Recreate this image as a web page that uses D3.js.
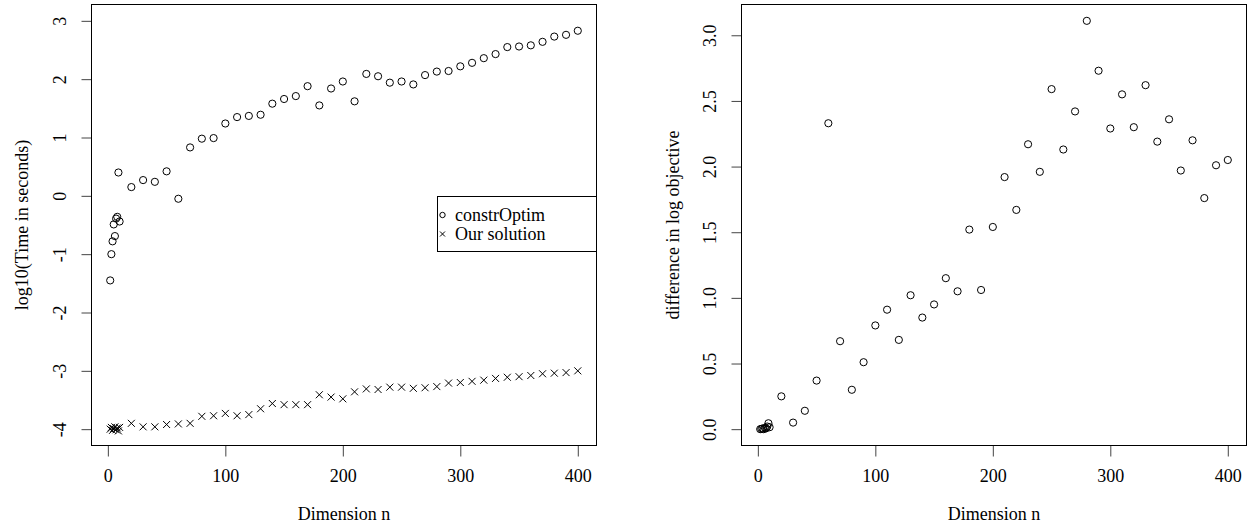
<!DOCTYPE html>
<html>
<head>
<meta charset="utf-8">
<script src="https://cdn.jsdelivr.net/npm/d3@7"></script>
<style>
    body { margin: 0; background: #fff; }
    svg text { font-family: "Liberation Serif", "Times New Roman", serif; fill: #000; }
</style>
</head>
<body>
<svg id="chart" width="1253" height="532"></svg>
<script>

// dimension n of each run
var dims = [2, 3, 4, 5, 6, 7, 8, 9, 10,
    20, 30, 40, 50, 60, 70, 80, 90, 100,
    110, 120, 130, 140, 150, 160, 170, 180, 190, 200,
    210, 220, 230, 240, 250, 260, 270, 280, 290, 300,
    310, 320, 330, 340, 350, 360, 370, 380, 390, 400];

// log10 of time in seconds
var constrOptimTime = [-1.45, -1.00, -0.78, -0.49, -0.69, -0.39, -0.36, 0.40, -0.44,
    0.15, 0.27, 0.24, 0.42, -0.05, 0.83, 0.98, 0.99, 1.24,
    1.35, 1.37, 1.39, 1.58, 1.66, 1.71, 1.88, 1.55, 1.84, 1.96,
    1.62, 2.09, 2.05, 1.94, 1.96, 1.91, 2.07, 2.13, 2.14, 2.22,
    2.28, 2.36, 2.43, 2.55, 2.56, 2.58, 2.64, 2.73, 2.76, 2.83];

var ourSolutionTime = [-4.00, -3.97, -4.02, -3.99, -3.96, -4.01, -3.98, -4.03, -3.97,
    -3.90, -3.96, -3.96, -3.92, -3.91, -3.90, -3.78, -3.77, -3.73,
    -3.77, -3.75, -3.65, -3.56, -3.58, -3.58, -3.58, -3.41, -3.45, -3.48,
    -3.36, -3.31, -3.32, -3.28, -3.28, -3.30, -3.29, -3.27, -3.21, -3.20,
    -3.18, -3.16, -3.13, -3.11, -3.10, -3.08, -3.05, -3.04, -3.03, -3.00];

// difference in log objective
var logObjDiff = [0.000, 0.002, 0.005, 0.000, 0.010, 0.006, 0.020, 0.045, 0.015,
    0.25, 0.05, 0.14, 0.37, 2.33, 0.67, 0.30, 0.51, 0.79,
    0.91, 0.68, 1.02, 0.85, 0.95, 1.15, 1.05, 1.52, 1.06, 1.54,
    1.92, 1.67, 2.17, 1.96, 2.59, 2.13, 2.42, 3.11, 2.73, 2.29,
    2.55, 2.30, 2.62, 2.19, 2.36, 1.97, 2.20, 1.76, 2.01, 2.05];

var xTicks = [0, 100, 200, 300, 400];
var leftYTicks = [-4, -3, -2, -1, 0, 1, 2, 3];
var rightYTicks = [0.0, 0.5, 1.0, 1.5, 2.0, 2.5, 3.0];
var legendLabels = ["constrOptim", "Our solution"];

var svg = d3.select("#chart");
var fontSize = 18;

// R style range: data range widened by 4% on each side
function rRange(lo, hi) {
    var d = (hi - lo) * 0.04;
    return [lo - d, hi + d];
}

// plain hyphen for negatives, like R prints them
function intFormat(d) {
    return String(d);
}
function oneDecimal(d) {
    return d.toFixed(1);
}

function drawCircles(g, x, y, xs, ys, r) {
    g.selectAll(null)
            .data(xs)
            .enter()
            .append("circle")
            .attr("cx", function (d) { return x(d); })
            .attr("cy", function (d, i) { return y(ys[i]); })
            .attr("r", r)
            .attr("fill", "none")
            .attr("stroke", "#000")
            .attr("stroke-width", 1);
}

function drawCrosses(g, x, y, xs, ys, h) {
    g.selectAll(null)
            .data(xs)
            .enter()
            .append("path")
            .attr("d", function (d, i) {
                var cx = x(d), cy = y(ys[i]);
                return "M" + (cx - h) + "," + (cy - h) + "L" + (cx + h) + "," + (cy + h) +
                        "M" + (cx - h) + "," + (cy + h) + "L" + (cx + h) + "," + (cy - h);
            })
            .attr("fill", "none")
            .attr("stroke", "#000")
            .attr("stroke-width", 1);
}

function drawPanel(box, yDomain, yTicks, yFormat, yLabel, yLabelX, yTickX) {
    var x = d3.scaleLinear().domain(rRange(2, 400)).range([box.left, box.right]);
    var y = d3.scaleLinear().domain(yDomain).range([box.bottom, box.top]);

    var g = svg.append("g");

    var xAxis = g.append("g")
            .attr("transform", "translate(0," + box.bottom + ")")
            .call(d3.axisBottom(x).tickValues(xTicks).tickSize(11).tickPadding(13).tickSizeOuter(0));
    xAxis.select(".domain").remove();
    xAxis.selectAll("line").attr("stroke", "#444");
    xAxis.selectAll("text").attr("font-size", fontSize).attr("font-family", null);

    var yAxis = g.append("g")
            .attr("transform", "translate(" + box.left + ",0)")
            .call(d3.axisLeft(y).tickValues(yTicks).tickSize(10).tickFormat(yFormat).tickSizeOuter(0));
    yAxis.select(".domain").remove();
    yAxis.selectAll("line").attr("stroke", "#444");
    yAxis.selectAll("text")
            .attr("font-size", fontSize)
            .attr("font-family", null)
            .attr("text-anchor", "middle")
            .attr("x", null)
            .attr("dy", null)
            .attr("dominant-baseline", "central")
            .attr("transform", "translate(" + (yTickX - box.left) + ",0) rotate(-90)");

    g.append("rect")
            .attr("x", box.left)
            .attr("y", box.top)
            .attr("width", box.right - box.left)
            .attr("height", box.bottom - box.top)
            .attr("fill", "none")
            .attr("stroke", "#000")
            .attr("stroke-width", 1);

    g.append("text")
            .attr("x", (box.left + box.right) / 2)
            .attr("y", 520)
            .attr("text-anchor", "middle")
            .attr("font-size", fontSize)
            .text("Dimension n");

    g.append("text")
            .attr("transform", "translate(" + yLabelX + "," + ((box.top + box.bottom) / 2) + ") rotate(-90)")
            .attr("text-anchor", "middle")
            .attr("dominant-baseline", "central")
            .attr("font-size", fontSize)
            .text(yLabel);

    return {g: g, x: x, y: y};
}

var left = drawPanel({left: 91.5, right: 596.5, top: 4.5, bottom: 445.5},
        rRange(-4, 3), leftYTicks, intFormat, "log10(Time in seconds)", 22, 60);
drawCircles(left.g, left.x, left.y, dims, constrOptimTime, 3.6);
drawCrosses(left.g, left.x, left.y, dims, ourSolutionTime, 3.5);

var right = drawPanel({left: 741.5, right: 1246.5, top: 4.5, bottom: 445.5},
        rRange(0, 3.11), rightYTicks, oneDecimal, "difference in log objective", 673, 710);
drawCircles(right.g, right.x, right.y, dims, logObjDiff, 3.6);

// legend, right edge sits on the plot box
var lg = left.g.append("g");
lg.append("rect")
        .attr("x", 437.5)
        .attr("y", 196.5)
        .attr("width", 596.5 - 437.5)
        .attr("height", 55)
        .attr("fill", "#fff")
        .attr("stroke", "#000")
        .attr("stroke-width", 1);
var rowY = [215, 234];
lg.append("circle")
        .attr("cx", 442.5).attr("cy", rowY[0]).attr("r", 2.7)
        .attr("fill", "none").attr("stroke", "#000");
lg.append("path")
        .attr("d", "M440,231.5L445,236.5M440,236.5L445,231.5")
        .attr("stroke", "#000");
lg.selectAll(null)
        .data(legendLabels)
        .enter()
        .append("text")
        .attr("x", 455)
        .attr("y", function (d, i) { return rowY[i]; })
        .attr("dominant-baseline", "central")
        .attr("font-size", fontSize)
        .text(function (d) { return d; });

</script>
</body>
</html>
